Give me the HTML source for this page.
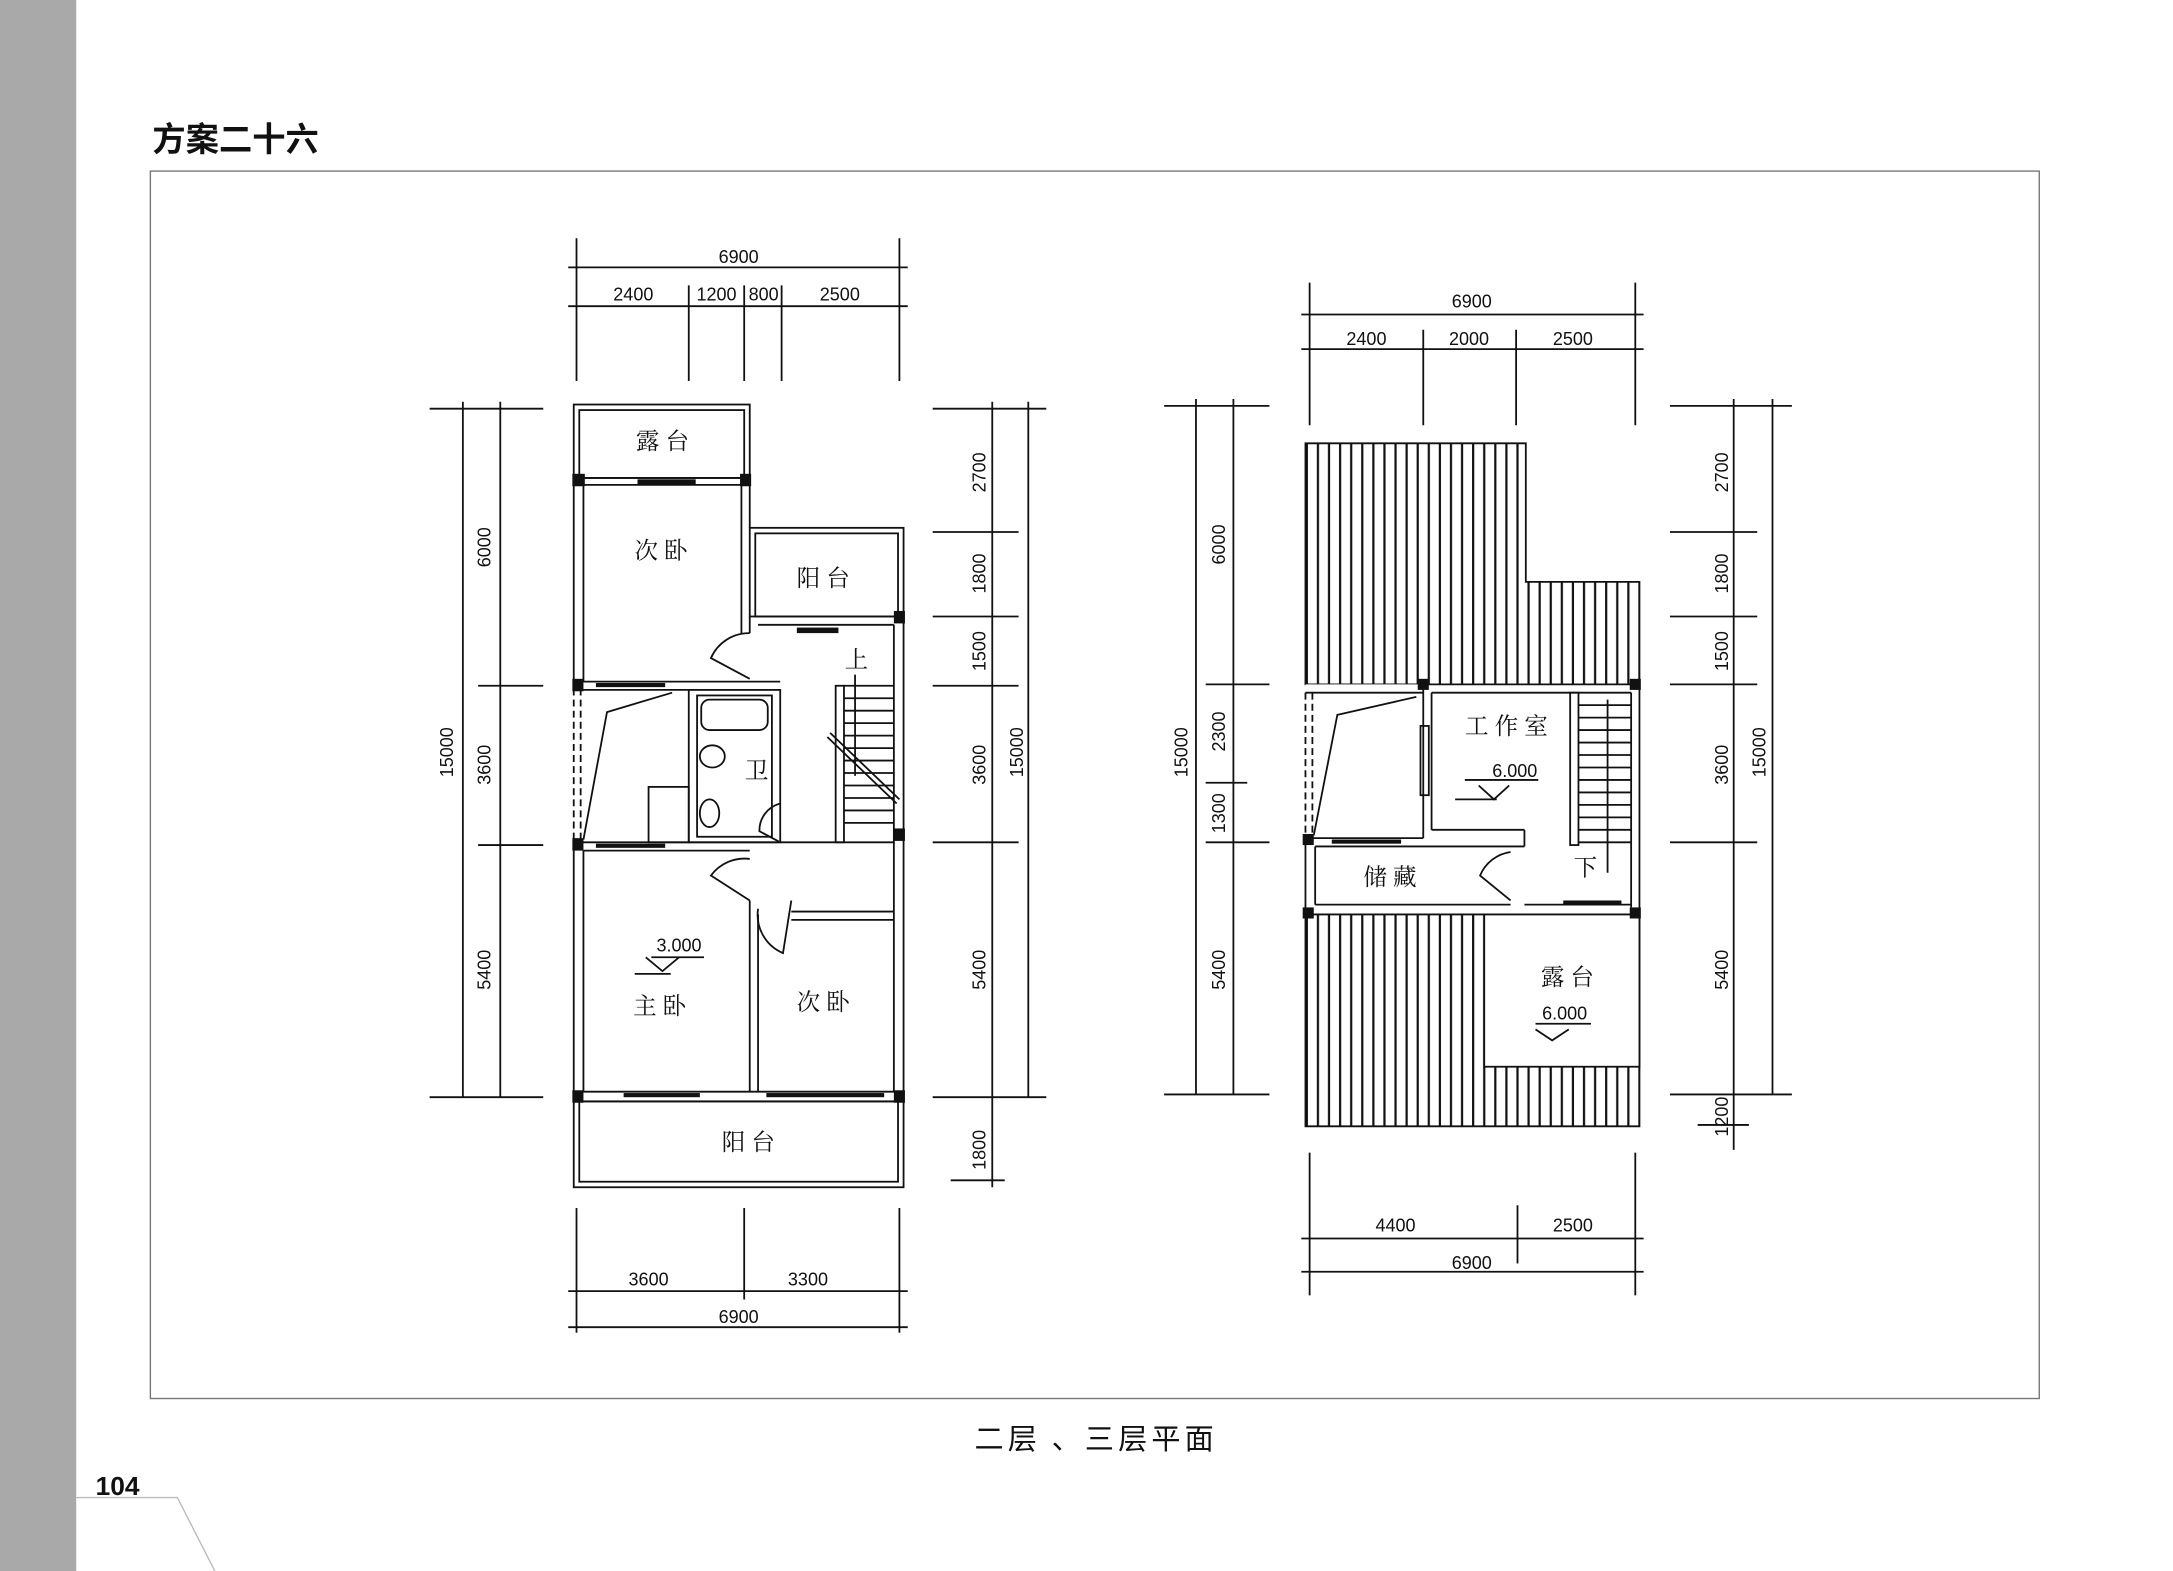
<!DOCTYPE html>
<html><head><meta charset="utf-8"><style>
html,body{margin:0;padding:0;background:#fff;}
svg{display:block;}
text{font-family:"Liberation Sans","Noto Sans CJK SC",sans-serif;fill:#111;}
.d{font-size:13px;text-anchor:middle;font-weight:500;}
.r{font-size:17px;text-anchor:middle;font-family:"Noto Serif CJK SC","Noto Sans CJK SC",serif;}
</style></head><body>
<svg width="2173" height="1571" viewBox="0 0 1568 1134" preserveAspectRatio="none" xmlns="http://www.w3.org/2000/svg">
<defs>
<pattern id="h" patternUnits="userSpaceOnUse" x="942" y="0" width="16" height="20">
<line x1="1" y1="0" x2="1" y2="20" stroke="#111" stroke-width="1.6"/>
<line x1="9" y1="0" x2="9" y2="20" stroke="#111" stroke-width="1.6"/>
</pattern>
</defs>
<rect x="0" y="0" width="55" height="1134" fill="#a9a9a9"/>
<text x="110" y="109" style="font-size:24px;font-weight:bold;font-family:'Noto Sans CJK SC',sans-serif">方案二十六</text>
<rect x="108.5" y="123.5" width="1363" height="886" fill="none" stroke="#777" stroke-width="1"/>
<text x="791" y="1046" style="font-size:21px;letter-spacing:3px;text-anchor:middle;font-family:'Noto Sans CJK SC',sans-serif">二层 、三层平面</text>
<text x="69" y="1079" style="font-size:19px;font-weight:bold">104</text>
<polyline points="55,1081 128,1081 155,1134" fill="none" stroke="#bbb" stroke-width="1"/>

<g stroke="#111" stroke-width="1.3" fill="none">
<line x1="416" y1="172" x2="416" y2="275"/><line x1="649" y1="172" x2="649" y2="275"/>
<line x1="497" y1="206" x2="497" y2="275"/><line x1="537" y1="206" x2="537" y2="275"/><line x1="564" y1="206" x2="564" y2="275"/>
<line x1="410" y1="193" x2="655" y2="193"/><line x1="410" y1="221" x2="655" y2="221"/>
<line x1="310" y1="295" x2="392" y2="295"/><line x1="334" y1="290" x2="334" y2="792"/><line x1="361" y1="290" x2="361" y2="792"/>
<line x1="345" y1="495" x2="392" y2="495"/><line x1="345" y1="610" x2="392" y2="610"/><line x1="310" y1="792" x2="392" y2="792"/>
<line x1="673" y1="295" x2="755" y2="295"/><line x1="716" y1="290" x2="716" y2="857"/><line x1="742" y1="290" x2="742" y2="792"/>
<line x1="673" y1="384" x2="735" y2="384"/><line x1="673" y1="445" x2="735" y2="445"/><line x1="673" y1="495" x2="735" y2="495"/>
<line x1="673" y1="608" x2="735" y2="608"/><line x1="673" y1="792" x2="755" y2="792"/><line x1="686" y1="852" x2="725" y2="852"/>
<line x1="416" y1="872" x2="416" y2="962"/><line x1="537" y1="872" x2="537" y2="938"/><line x1="649" y1="872" x2="649" y2="962"/>
<line x1="410" y1="932" x2="655" y2="932"/><line x1="410" y1="958" x2="655" y2="958"/>

<rect x="414" y="292" width="127" height="53"/><rect x="418" y="296" width="119" height="49"/>
<line x1="414" y1="345" x2="414" y2="497"/><line x1="421" y1="350" x2="421" y2="492"/>
<line x1="535" y1="350" x2="535" y2="457"/><line x1="541" y1="345" x2="541" y2="381"/>
<line x1="414" y1="350" x2="541" y2="350"/>
<rect x="541" y="381" width="111" height="64"/><rect x="545" y="385" width="103" height="60"/>
<line x1="541" y1="445" x2="541" y2="457"/><line x1="547" y1="451" x2="645" y2="451"/>
<line x1="645" y1="451" x2="645" y2="788"/><line x1="652" y1="445" x2="652" y2="792"/>
<line x1="421" y1="492" x2="563" y2="492"/><line x1="414" y1="498" x2="497" y2="498"/>
<line x1="414" y1="497" x2="414" y2="608" stroke-dasharray="5,3"/><line x1="419" y1="497" x2="419" y2="608" stroke-dasharray="5,3"/>
<polyline points="485,500 438,514 421,606"/>
<rect x="497" y="498" width="66" height="110"/><rect x="503" y="502" width="54" height="102"/>
<rect x="506" y="505" width="48" height="22" rx="6"/>
<ellipse cx="514" cy="546" rx="9" ry="8"/><ellipse cx="512" cy="587" rx="7" ry="10"/>
<rect x="468" y="568" width="29" height="40"/>
<path d="M541 457 A30 30 0 0 0 513 475 L541 490"/>
<path d="M541 620 A30 30 0 0 0 513 632 L541 650"/>
<path d="M547 656 A30 30 0 0 0 565 688 L571 650"/>
<path d="M563 580 A20 20 0 0 0 548 600 L563 608"/>
<rect x="603" y="495" width="6" height="113"/>
<line x1="609" y1="495" x2="645" y2="495"/>
<line x1="609" y1="504" x2="645" y2="504"/><line x1="609" y1="513" x2="645" y2="513"/><line x1="609" y1="522" x2="645" y2="522"/><line x1="609" y1="531" x2="645" y2="531"/><line x1="609" y1="540" x2="645" y2="540"/><line x1="609" y1="549" x2="645" y2="549"/><line x1="609" y1="558" x2="645" y2="558"/><line x1="609" y1="567" x2="645" y2="567"/><line x1="609" y1="576" x2="645" y2="576"/><line x1="609" y1="585" x2="645" y2="585"/><line x1="609" y1="594" x2="645" y2="594"/>
<line x1="597" y1="532" x2="647" y2="580"/><line x1="599" y1="529" x2="649" y2="577"/>
<line x1="617" y1="487" x2="617" y2="560"/>
<line x1="414" y1="608" x2="414" y2="792"/><line x1="421" y1="614" x2="421" y2="788"/>
<line x1="414" y1="608" x2="563" y2="608"/><line x1="421" y1="614" x2="541" y2="614"/>
<line x1="563" y1="608" x2="645" y2="608"/>
<line x1="541" y1="650" x2="541" y2="788"/><line x1="547" y1="660" x2="547" y2="788"/>
<line x1="571" y1="658" x2="645" y2="658"/><line x1="571" y1="664" x2="645" y2="664"/>
<line x1="414" y1="788" x2="652" y2="788"/><line x1="414" y1="795" x2="652" y2="795"/>
<rect x="414" y="795" width="238" height="62"/><rect x="418" y="795" width="230" height="58"/>
<line x1="470" y1="691" x2="508" y2="691"/><polyline points="466,691 478,701 490,691"/><line x1="458" y1="703" x2="484" y2="703"/>
</g>
<g fill="#111">
<rect x="413" y="342" width="9" height="9"/><rect x="534" y="342" width="8" height="9"/><rect x="645" y="441" width="8" height="9"/>
<rect x="413" y="490" width="8" height="9"/><rect x="413" y="605" width="8" height="9"/><rect x="645" y="598" width="8" height="9"/>
<rect x="413" y="787" width="8" height="9"/><rect x="645" y="787" width="8" height="9"/>
<rect x="460" y="346" width="42" height="4"/><rect x="575" y="453" width="30" height="4"/>
<rect x="430" y="493" width="50" height="3"/><rect x="430" y="609" width="50" height="3"/>
<rect x="450" y="789" width="55" height="3"/><rect x="553" y="789" width="85" height="3"/>
</g>
<text class="r" x="478" y="324">露 台</text><text class="r" x="477" y="403">次 卧</text>
<text class="r" x="594" y="423">阳 台</text><text class="r" x="618" y="482">上</text>
<text class="r" x="546" y="562">卫</text><text class="r" x="476" y="732">主 卧</text>
<text class="r" x="594" y="729">次 卧</text><text class="r" x="540" y="830">阳 台</text>
<text class="d" x="490" y="687">3.000</text>

<text class="d" x="533" y="190">6900</text>
<text class="d" x="457" y="217">2400</text><text class="d" x="517" y="217">1200</text><text class="d" x="551" y="217">800</text><text class="d" x="606" y="217">2500</text>
<text class="d" x="468" y="928">3600</text><text class="d" x="583" y="928">3300</text><text class="d" x="533" y="955">6900</text>
<text class="d" transform="translate(354,395) rotate(-90)">6000</text>
<text class="d" transform="translate(354,552) rotate(-90)">3600</text>
<text class="d" transform="translate(354,700) rotate(-90)">5400</text>
<text class="d" transform="translate(327,543) rotate(-90)">15000</text>
<text class="d" transform="translate(711,341) rotate(-90)">2700</text>
<text class="d" transform="translate(711,414) rotate(-90)">1800</text>
<text class="d" transform="translate(711,470) rotate(-90)">1500</text>
<text class="d" transform="translate(711,552) rotate(-90)">3600</text>
<text class="d" transform="translate(711,700) rotate(-90)">5400</text>
<text class="d" transform="translate(738,543) rotate(-90)">15000</text>
<text class="d" transform="translate(711,830) rotate(-90)">1800</text>

<path d="M942 320 H1101 V420 H1183 V494 H942 Z" fill="url(#h)" stroke="#111" stroke-width="1.3"/>
<path d="M942 660 H1183 V813 H942 Z" fill="url(#h)" stroke="#111" stroke-width="1.3"/>
<rect x="1071" y="660" width="112" height="110" fill="#fff" stroke="#111" stroke-width="1.3"/>
<g stroke="#111" stroke-width="1.3" fill="none">
<rect x="942" y="494" width="241" height="166" fill="#fff" stroke="none"/>
<line x1="1027" y1="494" x2="1183" y2="494"/><line x1="1033" y1="500" x2="1177" y2="500"/>
<line x1="942" y1="500" x2="1027" y2="500"/>
<line x1="1027" y1="494" x2="1027" y2="605"/><line x1="1033" y1="500" x2="1033" y2="599"/>
<line x1="1177" y1="500" x2="1177" y2="655"/><line x1="1183" y1="494" x2="1183" y2="660"/>
<line x1="942" y1="500" x2="942" y2="605" stroke-dasharray="5,3"/><line x1="947" y1="500" x2="947" y2="605" stroke-dasharray="5,3"/>
<polyline points="1022,503 965,516 948,603"/>
<line x1="942" y1="605" x2="1027" y2="605"/><line x1="949" y1="611" x2="1100" y2="611"/>
<line x1="1033" y1="599" x2="1100" y2="599"/><line x1="1100" y1="599" x2="1100" y2="611"/>
<line x1="942" y1="605" x2="942" y2="660"/><line x1="949" y1="611" x2="949" y2="653"/>
<line x1="949" y1="653" x2="1090" y2="653"/><line x1="942" y1="660" x2="1183" y2="660"/>
<line x1="1100" y1="653" x2="1177" y2="653"/>
<path d="M1090 615 A28 28 0 0 0 1068 632 L1090 650"/>
<rect x="1025" y="524" width="6" height="50"/>
<rect x="1133" y="500" width="6" height="110"/>
<line x1="1139" y1="509" x2="1177" y2="509"/><line x1="1139" y1="518" x2="1177" y2="518"/><line x1="1139" y1="527" x2="1177" y2="527"/><line x1="1139" y1="536" x2="1177" y2="536"/><line x1="1139" y1="545" x2="1177" y2="545"/><line x1="1139" y1="554" x2="1177" y2="554"/><line x1="1139" y1="563" x2="1177" y2="563"/><line x1="1139" y1="572" x2="1177" y2="572"/><line x1="1139" y1="581" x2="1177" y2="581"/><line x1="1139" y1="590" x2="1177" y2="590"/><line x1="1139" y1="599" x2="1177" y2="599"/><line x1="1139" y1="608" x2="1177" y2="608"/>
<line x1="1160" y1="505" x2="1160" y2="630"/>
<line x1="1057" y1="563" x2="1110" y2="563"/><polyline points="1067,567 1078,577 1089,567"/><line x1="1050" y1="577" x2="1080" y2="577"/>
<line x1="1108" y1="739" x2="1148" y2="739"/><polyline points="1108,743 1120,751 1132,743"/>
<line x1="945" y1="204" x2="945" y2="307"/><line x1="1180" y1="204" x2="1180" y2="307"/>
<line x1="1027" y1="238" x2="1027" y2="307"/><line x1="1094" y1="238" x2="1094" y2="307"/>
<line x1="939" y1="227" x2="1186" y2="227"/><line x1="939" y1="252" x2="1186" y2="252"/>
<line x1="840" y1="293" x2="916" y2="293"/><line x1="863" y1="288" x2="863" y2="790"/><line x1="890" y1="288" x2="890" y2="790"/>
<line x1="870" y1="494" x2="916" y2="494"/><line x1="870" y1="565" x2="900" y2="565"/><line x1="870" y1="608" x2="916" y2="608"/><line x1="840" y1="790" x2="916" y2="790"/>
<line x1="1205" y1="293" x2="1293" y2="293"/><line x1="1251" y1="288" x2="1251" y2="830"/><line x1="1279" y1="288" x2="1279" y2="790"/>
<line x1="1205" y1="384" x2="1268" y2="384"/><line x1="1205" y1="445" x2="1268" y2="445"/><line x1="1205" y1="494" x2="1268" y2="494"/>
<line x1="1205" y1="608" x2="1268" y2="608"/><line x1="1205" y1="790" x2="1293" y2="790"/><line x1="1225" y1="812" x2="1262" y2="812"/>
<line x1="945" y1="832" x2="945" y2="935"/><line x1="1180" y1="832" x2="1180" y2="935"/><line x1="1095" y1="870" x2="1095" y2="912"/>
<line x1="939" y1="894" x2="1186" y2="894"/><line x1="939" y1="918" x2="1186" y2="918"/>
</g>
<g fill="#111">
<rect x="1023" y="490" width="8" height="8"/><rect x="1176" y="490" width="8" height="8"/>
<rect x="940" y="602" width="8" height="8"/><rect x="940" y="655" width="8" height="8"/><rect x="1176" y="655" width="8" height="8"/>
<rect x="961" y="606" width="50" height="3"/><rect x="1128" y="650" width="42" height="3"/>
</g>
<text class="r" x="1087" y="530">工 作 室</text><text class="r" x="1003" y="639">储 藏</text>
<text class="r" x="1144" y="632">下</text><text class="r" x="1131" y="711">露 台</text>
<text class="d" x="1093" y="561">6.000</text><text class="d" x="1129" y="736">6.000</text>
<text class="d" x="1062" y="222">6900</text>
<text class="d" x="986" y="249">2400</text><text class="d" x="1060" y="249">2000</text><text class="d" x="1135" y="249">2500</text>
<text class="d" x="1007" y="889">4400</text><text class="d" x="1135" y="889">2500</text><text class="d" x="1062" y="916">6900</text>
<text class="d" transform="translate(884,393) rotate(-90)">6000</text>
<text class="d" transform="translate(884,528) rotate(-90)">2300</text>
<text class="d" transform="translate(884,587) rotate(-90)">1300</text>
<text class="d" transform="translate(884,700) rotate(-90)">5400</text>
<text class="d" transform="translate(857,543) rotate(-90)">15000</text>
<text class="d" transform="translate(1247,341) rotate(-90)">2700</text>
<text class="d" transform="translate(1247,414) rotate(-90)">1800</text>
<text class="d" transform="translate(1247,470) rotate(-90)">1500</text>
<text class="d" transform="translate(1247,552) rotate(-90)">3600</text>
<text class="d" transform="translate(1247,700) rotate(-90)">5400</text>
<text class="d" transform="translate(1274,543) rotate(-90)">15000</text>
<text class="d" transform="translate(1247,806) rotate(-90)">1200</text>
</svg>
</body></html>
